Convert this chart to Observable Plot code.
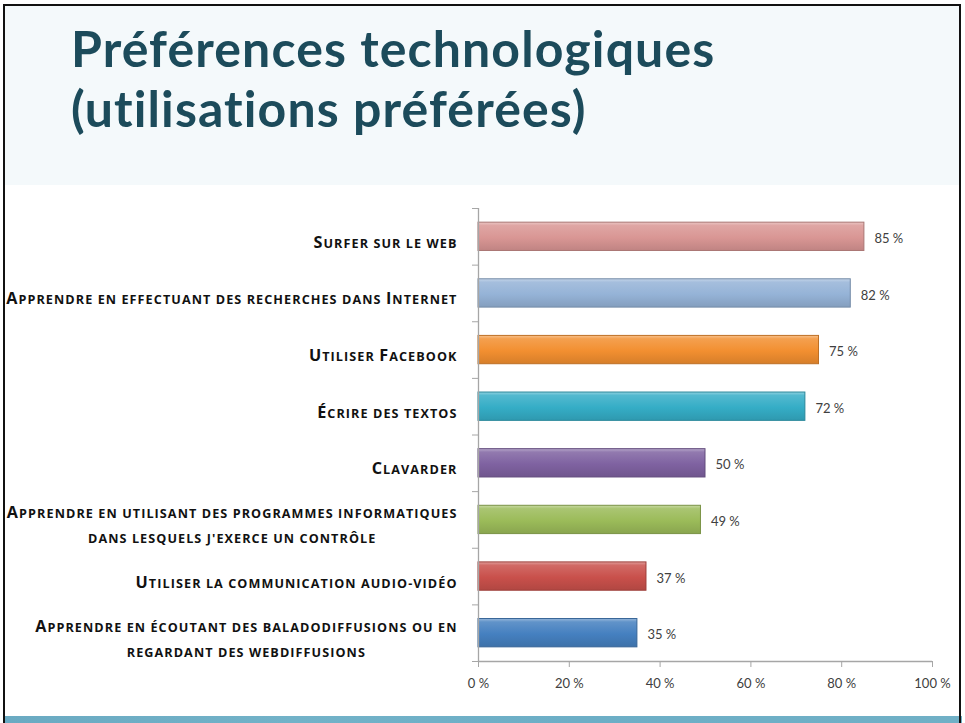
<!DOCTYPE html>
<html lang="fr">
<head>
<meta charset="utf-8">
<script src="https://cdn.jsdelivr.net/npm/d3@7"></script>
<script src="https://cdn.jsdelivr.net/npm/@observablehq/plot@0.6"></script>
<style>
  html, body { margin: 0; padding: 0; background: #fff; }
  #slide { position: relative; width: 965px; height: 723px; overflow: hidden; background: #fff; font-family: Lato, "Open Sans", sans-serif; }
  #frame { position: absolute; left: 3px; top: 4px; width: 958px; height: 730px; border-top: 2px solid #111; border-left: 2px solid #111; border-right: 2px solid #111; box-sizing: border-box; }
  #titlePanel { position: absolute; left: 5px; top: 6px; width: 956px; height: 179px; background: #f4f9fb; }
  #title { position: absolute; left: 71px; top: 18px; margin: 0; color: #1c4b5b; font-family: Lato, sans-serif; font-weight: 700; font-size: 50px; line-height: 60px; letter-spacing: 1.1px; font-variant-ligatures: none; white-space: nowrap; }
  #band { position: absolute; left: 5px; top: 716px; width: 957px; height: 7px; background: linear-gradient(90deg, #6aaac2 0%, #72b2c8 30%, #6caec6 60%, #70b0c6 100%); }
  #chart { position: absolute; left: 5px; top: 186px; }
  #chart svg { background: transparent !important; overflow: visible; }
</style>
</head>
<body>
<div id="slide">
  <div id="titlePanel"></div>
  <div id="title">Préférences technologiques<br>(utilisations préférées)</div>
  <div id="chart"></div>
  <div id="band"></div>
  <div id="frame"></div>
</div>
<script>
// ---- data ----
const categories = [
  "Surfer sur le web",
  "Apprendre en effectuant des recherches dans Internet",
  "Utiliser Facebook",
  "Écrire des textos",
  "Clavarder",
  "Apprendre en utilisant des programmes informatiques\ndans lesquels j'exerce un contrôle",
  "Utiliser la communication audio-vidéo",
  "Apprendre en écoutant des baladodiffusions ou en\nregardant des webdiffusions"
];
const values = [85, 82, 75, 72, 50, 49, 37, 35];
const barColors = ["#d99694", "#95b3d7", "#f28f30", "#35adc6", "#7f62a1", "#9bbb59", "#c9504b", "#4580c0"];
const xTicks = [0, 20, 40, 60, 80, 100];
const xTickLabels = ["0 %", "20 %", "40 %", "60 %", "80 %", "100 %"];

// ---- build table ----
const rows = categories.map((c, i) => ({
  category: c,
  value: values[i],
  index: i,
  fill: `url(#barGrad${i})`,
  stroke: d3.color(barColors[i]).darker(0.7).formatHex()
}));

const axisColor = "#a6a6a6";
const W = 956, H = 529;
const labelSize = 16.2;
const smallCapRatio = 0.78;

const chart = Plot.plot({
  width: W,
  height: H,
  marginLeft: 473,
  marginRight: 29,
  marginTop: 22,
  marginBottom: 54,
  style: { fontFamily: "Lato, 'Open Sans', sans-serif", background: "transparent" },
  x: { domain: [0, 100], label: null },
  y: { domain: [0, categories.length], reverse: true, label: null },
  color: { type: "identity" },
  marks: [
    Plot.rectX(rows, {
      x1: 0, x2: "value",
      y1: d => d.index + 0.25, y2: d => d.index + 0.75,
      fill: "fill", stroke: "stroke", strokeWidth: 1
    }),
    Plot.ruleX([0], { stroke: axisColor, strokeWidth: 1.3 }),
    Plot.ruleY([categories.length], { stroke: axisColor, strokeWidth: 1.3 }),
    Plot.axisY({ ticks: d3.range(0, categories.length + 1), tickSize: 6, tickFormat: () => "", stroke: axisColor, label: null }),
    Plot.axisX({ ticks: xTicks, tickSize: 6, tickPadding: 11, tickFormat: (d) => xTickLabels[xTicks.indexOf(d)], stroke: axisColor, fill: "#404040", fontSize: 13, label: null }),
    Plot.text(rows, {
      x: "value", y: d => d.index + 0.5,
      text: d => `${d.value} %`,
      dx: 10, dy: 2, textAnchor: "start",
      fill: "#404040", fontSize: 13
    }),
    Plot.text(rows, {
      x: 0, y: d => d.index + 0.5,
      text: "category",
      dx: -21, dy: 3, textAnchor: "end",
      fill: "#111", fontSize: labelSize, fontWeight: 700,
      fontFamily: "'Open Sans', sans-serif",
      lineHeight: 25 / labelSize,
      className: "catlabel"
    })
  ]
});

// gradients for the bevelled bars
const ns = "http://www.w3.org/2000/svg";
const defs = document.createElementNS(ns, "defs");
barColors.forEach((c, i) => {
  const g = document.createElementNS(ns, "linearGradient");
  g.setAttribute("id", `barGrad${i}`);
  g.setAttribute("x1", "0"); g.setAttribute("y1", "0");
  g.setAttribute("x2", "0"); g.setAttribute("y2", "1");
  const stops = [
    [0, d3.interpolateRgb(c, "#ffffff")(0.45)],
    [0.12, d3.interpolateRgb(c, "#ffffff")(0.15)],
    [0.55, c],
    [1, d3.color(c).darker(0.35).formatHex()]
  ];
  stops.forEach(([o, col]) => {
    const s = document.createElementNS(ns, "stop");
    s.setAttribute("offset", o);
    s.setAttribute("stop-color", col);
    g.appendChild(s);
  });
  defs.appendChild(g);
});
chart.insertBefore(defs, chart.firstChild);

document.getElementById("chart").appendChild(chart);

// small caps drawn as real capitals with reduced size for lowercase letters
function smallCaps(node) {
  const str = node.textContent;
  node.textContent = "";
  let run = "", big = null;
  const flush = () => {
    if (!run) return;
    const s = document.createElementNS(ns, "tspan");
    if (!big) s.setAttribute("font-size", (labelSize * smallCapRatio).toFixed(2));
    s.textContent = big ? run : run.toUpperCase();
    node.appendChild(s);
    run = "";
  };
  for (const ch of str) {
    const isBig = ch !== ch.toLowerCase() && ch === ch.toUpperCase();
    if (big !== null && isBig !== big) flush();
    big = isBig;
    run += ch;
  }
  flush();
}

const labels = Array.from(chart.querySelectorAll(".catlabel text"));
labels.forEach(t => {
  const lines = Array.from(t.querySelectorAll(":scope > tspan"));
  if (lines.length) lines.forEach(smallCaps); else smallCaps(t);
});
if (labels.length) {
  const first = labels[0];
  const w0 = first.getBBox().width;
  const n = first.textContent.length;
  const spacing = Math.max(0, (144 - w0) / n);
  labels.forEach(t => t.style.letterSpacing = spacing + "px");
  labels.forEach(t => {
    const w = t.getBBox().width;
    t.setAttribute("text-anchor", "middle");
    const tr = t.getAttribute("transform") || "";
    t.setAttribute("transform", `${tr} translate(${-w / 2},0)`);
  });
}
</script>
</body>
</html>
